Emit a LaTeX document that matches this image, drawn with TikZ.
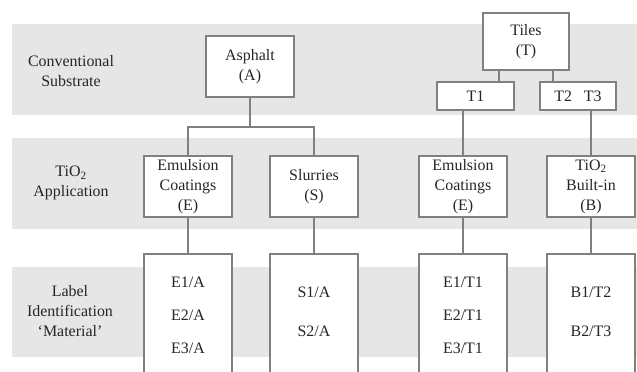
\documentclass[tikz,border=0pt]{standalone}
\usepackage{fontspec}
\setmainfont{Liberation Serif}
\begin{document}
\begin{tikzpicture}[x=1bp,y=-1bp,
  every node/.style={font=\fontsize{16}{20}\selectfont, text=black!85},
  box/.style={draw=linegray, line width=1.8bp, fill=white, inner sep=0pt, align=center},
  conn/.style={draw=linegray, line width=1.8bp},
  lbl/.style={align=center, inner sep=0pt}]
\definecolor{bandgray}{RGB}{230,230,230}
\definecolor{linegray}{RGB}{128,128,128}
\useasboundingbox (0,0) rectangle (637,371);
\clip (0,0) rectangle (637,371);
% bands
\fill[bandgray] (12,24) rectangle (637,115);
\fill[bandgray] (12,138) rectangle (637,229);
\fill[bandgray] (12,267) rectangle (637,357);
% row labels
\node[lbl] (r1) at (71,71) {Conventional\\Substrate};
\node[lbl] (r2) at (71,183) {TiO\textsubscript{2}\\Application};
\node[lbl] (r3) at (70,311) {Label\\Identification\\‘Material’};
% top boxes
\node[box, minimum width=88bp, minimum height=61bp] (A) at (250,66.5) {Asphalt\\(A)};
\node[box, minimum width=86bp, minimum height=57bp] (T) at (526,41.5) {Tiles\\(T)};
\node[box, minimum width=77bp, minimum height=28bp] (T1) at (475.5,96) {T1};
\node[box, minimum width=76bp, minimum height=28bp] (T23) at (578,96) {T2\hspace{12bp}T3};
% application boxes
\node[box, minimum width=88bp, minimum height=61bp] (EA) at (188,186.5) {Emulsion\\Coatings\\(E)};
\node[box, minimum width=88bp, minimum height=61bp] (SA) at (314,186.5) {Slurries\\(S)};
\node[box, minimum width=88bp, minimum height=61bp] (ET) at (463,186.5) {Emulsion\\Coatings\\(E)};
\node[box, minimum width=88bp, minimum height=61bp] (BT) at (591,186.5) {TiO\textsubscript{2}\\Built-in\\(B)};
% label boxes (open at the bottom)
\node[box, minimum width=88bp, minimum height=140bp] (LEA) at (188,324) {};
\node[box, minimum width=88bp, minimum height=140bp] (LSA) at (314,324) {};
\node[box, minimum width=88bp, minimum height=140bp] (LET) at (463,324) {};
\node[box, minimum width=88bp, minimum height=140bp] (LBT) at (591,324) {};
\node[lbl] (ea1) at (188,282) {E1/A};
\node[lbl] (ea2) at (188,315) {E2/A};
\node[lbl] (ea3) at (188,348) {E3/A};
\node[lbl] (sa1) at (314,292) {S1/A};
\node[lbl] (sa2) at (314,331) {S2/A};
\node[lbl] (et1) at (463,282) {E1/T1};
\node[lbl] (et2) at (463,315) {E2/T1};
\node[lbl] (et3) at (463,348) {E3/T1};
\node[lbl] (bt1) at (591,292) {B1/T2};
\node[lbl] (bt2) at (591,331) {B2/T3};
% connectors
\coordinate (jA) at (250,127);
\draw[conn] (A.south) -- (jA);
\draw[conn] (EA.north) |- (jA) -| (SA.north);
\draw[conn] (T.south -| 499,0) -- (T1.north -| 499,0);
\draw[conn] (T.south -| 553,0) -- (T23.north -| 553,0);
\draw[conn] (T1.south -| ET.north) -- (ET.north);
\draw[conn] (T23.south -| BT.north) -- (BT.north);
\draw[conn] (EA.south) -- (LEA.north);
\draw[conn] (SA.south) -- (LSA.north);
\draw[conn] (ET.south) -- (LET.north);
\draw[conn] (BT.south) -- (LBT.north);
\end{tikzpicture}
\end{document}
